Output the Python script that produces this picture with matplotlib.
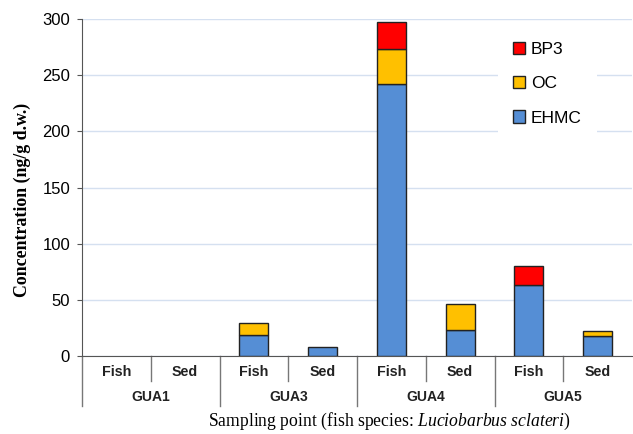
import numpy as np
import matplotlib
matplotlib.use('Agg')
import matplotlib.pyplot as plt
from matplotlib.patches import Patch

plt.rcParams['font.family'] = ['Liberation Sans', 'DejaVu Sans']
plt.rcParams['mathtext.fontset'] = 'custom'
plt.rcParams['mathtext.rm'] = 'Liberation Serif'
plt.rcParams['mathtext.it'] = 'Liberation Serif:italic'

# data (ng/g d.w.)
sites = ['GUA1', 'GUA3', 'GUA4', 'GUA5']
matrices = ['Fish', 'Sed']
ehmc = [0, 0, 19, 8, 242, 23, 63, 18]
oc = [0, 0, 10, 0, 31, 23, 0, 4]
bp3 = [0, 0, 0, 0, 24, 0, 17, 0]

series = [('EHMC', ehmc, '#558ed5'), ('OC', oc, '#ffc000'), ('BP3', bp3, '#ff0000')]

fig = plt.figure(figsize=(6.33, 4.34), dpi=100)
ax = fig.add_axes([82 / 633, 1 - 356 / 434, 550 / 633, 337 / 434])

x = np.arange(len(sites) * len(matrices))
bottom = np.zeros(len(x))
for name, vals, col in series:
    vals = np.array(vals, dtype=float)
    edges = ['#222222' if v > 0 else 'none' for v in vals]
    ax.bar(x, vals, width=0.42, bottom=bottom, color=col, edgecolor=edges,
           linewidth=1.0, zorder=3)
    bottom += vals

ax.set_xlim(-0.5, len(x) - 0.5)
ax.set_ylim(0, 300)
ax.set_yticks(np.arange(0, 301, 50))
ax.tick_params(axis='y', labelsize=12, length=3.6, color='#555555', pad=5)
ax.set_xticks([])
ax.grid(axis='y', color='#d5e0f0', linewidth=1.0, zorder=0)
for s in ['top', 'right']:
    ax.spines[s].set_visible(False)
ax.spines['left'].set_color('#555555')
ax.spines['bottom'].set_color('#555555')

# two-level category axis
trans = ax.get_xaxis_transform()
px = 1 / 337
for i, lab in enumerate(matrices * len(sites)):
    ax.text(i, -16 * px, lab, transform=trans, ha='center', va='center',
            fontsize=10.3, fontweight='bold', color='#222222')
for j, site in enumerate(sites):
    ax.text(j * 2 + 0.5, -41 * px, site, transform=trans, ha='center', va='center',
            fontsize=10, fontweight='bold', color='#222222')
    # inner separator between Fish and Sed
    ax.plot([j * 2 + 0.5] * 2, [0, -25 * px], transform=trans, color='#777777',
            lw=1, clip_on=False)
    # outer separator at site boundary
    ax.plot([j * 2 - 0.5] * 2, [0, -50 * px], transform=trans, color='#777777',
            lw=1, clip_on=False)

fig.text(389 / 633, 1 - 421 / 434,
         r'Sampling point (fish species: $\mathit{Luciobarbus\ sclateri)}$',
         ha='center', va='center', fontsize=12.7, family='Liberation Serif')
fig.text(22 / 633, 1 - 200 / 434, 'Concentration (ng/g d.w.)', rotation=90,
         ha='center', va='center', fontsize=12.9, fontweight='bold',
         family='Liberation Serif')

handles = [Patch(facecolor=c, edgecolor='#222222', label=n) for n, _, c in series[::-1]]
leg = ax.legend(handles=handles, loc='upper left', bbox_to_anchor=(0.74, 1.004),
                fontsize=12.5, frameon=True, handlelength=0.7, handleheight=0.7,
                handletextpad=0.3, labelspacing=1.1, borderpad=0.9)
leg.get_frame().set_facecolor('white')
leg.get_frame().set_edgecolor('none')
leg.get_frame().set_alpha(1)

fig.savefig('out.png', dpi=100)
